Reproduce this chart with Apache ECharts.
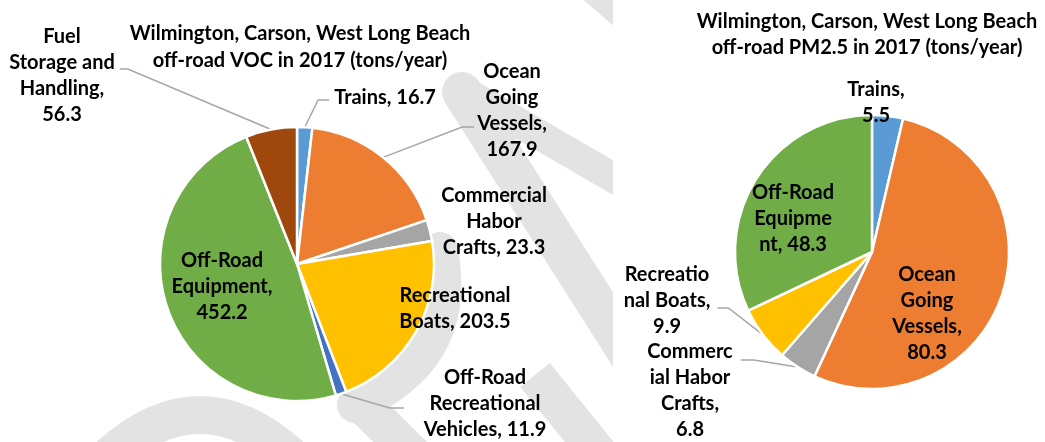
<!DOCTYPE html>
<html>
<head>
<meta charset="utf-8">
<script src="https://cdn.jsdelivr.net/npm/echarts@6/dist/echarts.min.js"></script>
<style>
html,body{margin:0;padding:0;background:#fff;}
#chart{width:1045px;height:442px;}
</style>
</head>
<body>
<div id="chart"></div>
<script>
// ---- Data ----
const vocTitle = 'Wilmington, Carson, West Long Beach\noff-road VOC in 2017 (tons/year)';
const pmTitle = 'Wilmington, Carson, West Long Beach\noff-road PM2.5 in 2017 (tons/year)';

const vocCategories = ['Trains', 'Ocean Going Vessels', 'Commercial Habor Crafts', 'Recreational Boats', 'Off-Road Recreational Vehicles', 'Off-Road Equipment', 'Fuel Storage and Handling'];
const vocValues = [16.7, 167.9, 23.3, 203.5, 11.9, 452.2, 56.3];
const vocLabelText = ['Trains, {v}', 'Ocean\nGoing\nVessels,\n{v}', 'Commercial\nHabor\nCrafts, {v}', 'Recreational\nBoats, {v}', 'Off-Road\nRecreational\nVehicles, {v}', 'Off-Road\nEquipment,\n{v}', 'Fuel\nStorage and\nHandling,\n{v}'];
const vocHasLine = [true, true, false, false, true, false, true];

const pmCategories = ['Trains', 'Ocean Going Vessels', 'Commercial Habor Crafts', 'Recreational Boats', 'Off-Road Equipment'];
const pmValues = [5.5, 80.3, 6.8, 9.9, 48.3];
const pmLabelText = ['Trains,\n{v}', 'Ocean\nGoing\nVessels,\n{v}', 'Commerc\nial Habor\nCrafts,\n{v}', 'Recreatio\nnal Boats,\n{v}', 'Off-Road\nEquipme\nnt, {v}'];
const pmHasLine = [false, false, true, true, false];

// ---- Layout: label centres, leader line [y offset from label centre, gap to text, elbow length] ----
const vocLabelPos = [[385, 98], [512, 111], [494, 222], [455, 309], [485, 404], [222, 287], [62, 76]];
const vocLeader = [[2, 5, 11], [16, 3, 12], null, null, [4, 20, 14], null, [-7, 5, 8]];
const pmLabelPos = [[876, 103], [927, 314], [690, 391], [667, 301], [793, 219]];
const pmLeader = [null, null, [-31, 8, 13], [7, 7, 11], null];

const colorMap = {
  'Trains': '#5B9BD5',
  'Ocean Going Vessels': '#ED7D31',
  'Commercial Habor Crafts': '#A5A5A5',
  'Recreational Boats': '#FFC000',
  'Off-Road Recreational Vehicles': '#4472C4',
  'Off-Road Equipment': '#70AD47',
  'Fuel Storage and Handling': '#9E480E'
};

const FONT = 'Lato, "Open Sans", sans-serif';

function buildData(cats, vals, hasLine) {
  return cats.map((c, i) => ({
    name: c,
    value: vals[i],
    itemStyle: { color: colorMap[c] },
    labelLine: { show: hasLine[i] }
  }));
}

function makeLayout(pos, leader) {
  return function (params) {
    const i = params.dataIndex;
    const p = pos[i];
    const out = { x: p[0], y: p[1], align: 'center', verticalAlign: 'middle' };
    const ld = leader[i];
    if (ld && params.labelLinePoints) {
      const start = params.labelLinePoints[0];
      const w = params.labelRect.width;
      const yLine = p[1] + ld[0];
      let endX, elbowX;
      if (start[0] < p[0]) {
        endX = p[0] - w / 2 - ld[1];
        elbowX = endX - ld[2];
      } else {
        endX = p[0] + w / 2 + ld[1];
        elbowX = endX + ld[2];
      }
      out.labelLinePoints = [start, [elbowX, yLine], [endX, yLine]];
    }
    return out;
  };
}

function pieSeries(name, cats, vals, texts, hasLine, pos, leader, center) {
  return {
    type: 'pie',
    name: name,
    center: center,
    radius: 137,
    startAngle: 90,
    clockwise: true,
    avoidLabelOverlap: false,
    animation: false,
    silent: true,
    data: buildData(cats, vals, hasLine),
    itemStyle: { borderColor: '#ffffff', borderWidth: 2.5 },
    label: {
      show: true,
      position: 'outside',
      color: '#000',
      fontFamily: FONT,
      fontWeight: 'bold',
      fontSize: 20,
      lineHeight: 26,
      align: 'center',
      formatter: function (p) { return texts[p.dataIndex].replace('{v}', p.value); }
    },
    labelLine: { show: true, length: 10, length2: 10, lineStyle: { color: '#A6A6A6', width: 1.5 } },
    labelLayout: makeLayout(pos, leader)
  };
}

const wm = '#e3e3e3';
const chart = echarts.init(document.getElementById('chart'), null, { renderer: 'canvas' });
chart.setOption({
  backgroundColor: '#ffffff',
  animation: false,
  title: [
    { text: vocTitle, left: 300, top: 20, padding: 0, textAlign: 'center',
      textStyle: { fontFamily: FONT, fontWeight: 'bold', fontSize: 20, lineHeight: 27, color: '#000' } },
    { text: pmTitle, left: 867, top: 9, padding: 0, textAlign: 'center',
      textStyle: { fontFamily: FONT, fontWeight: 'bold', fontSize: 20, lineHeight: 26, color: '#000' } }
  ],
  graphic: [
    { type: 'polyline', z: 0, silent: true, shape: { points: [[462, 90], [650, 199]] }, style: { stroke: wm, lineWidth: 30, lineCap: 'round', fill: null } },
    { type: 'polyline', z: 0, silent: true, shape: { points: [[462, 92], [640, 372]] }, style: { stroke: wm, lineWidth: 40, lineCap: 'round', fill: null } },
    { type: 'polyline', z: 0, silent: true, shape: { points: [[575, -30], [650, 35]] }, style: { stroke: wm, lineWidth: 34, fill: null } },
    { type: 'polyline', z: 0, silent: true, shape: { points: [[535, 375], [620, 480]] }, style: { stroke: wm, lineWidth: 38, fill: null } },
    { type: 'polyline', z: 0, silent: true, shape: { points: [[350, 392], [420, 462]] }, style: { stroke: wm, lineWidth: 38, fill: null } },
    { type: 'bezierCurve', z: 0, silent: true, shape: { x1: 95, y1: 470, x2: 305, y2: 470, cpx1: 200, cpy1: 360 }, style: { stroke: wm, lineWidth: 38, fill: null } },
    { type: 'bezierCurve', z: 0, silent: true, shape: { x1: 440, y1: 250, x2: 355, y2: 405, cpx1: 455, cpy1: 330, cpx2: 420, cpy2: 375 }, style: { stroke: wm, lineWidth: 36, fill: null, lineCap: 'round' } },
    { type: 'rect', z: 1, silent: true, shape: { x: 613, y: 0, width: 432, height: 442 }, style: { fill: '#ffffff' } }
  ],
  series: [
    pieSeries('VOC', vocCategories, vocValues, vocLabelText, vocHasLine, vocLabelPos, vocLeader, [297, 264]),
    pieSeries('PM2.5', pmCategories, pmValues, pmLabelText, pmHasLine, pmLabelPos, pmLeader, [872, 252])
  ]
});
</script>
</body>
</html>
